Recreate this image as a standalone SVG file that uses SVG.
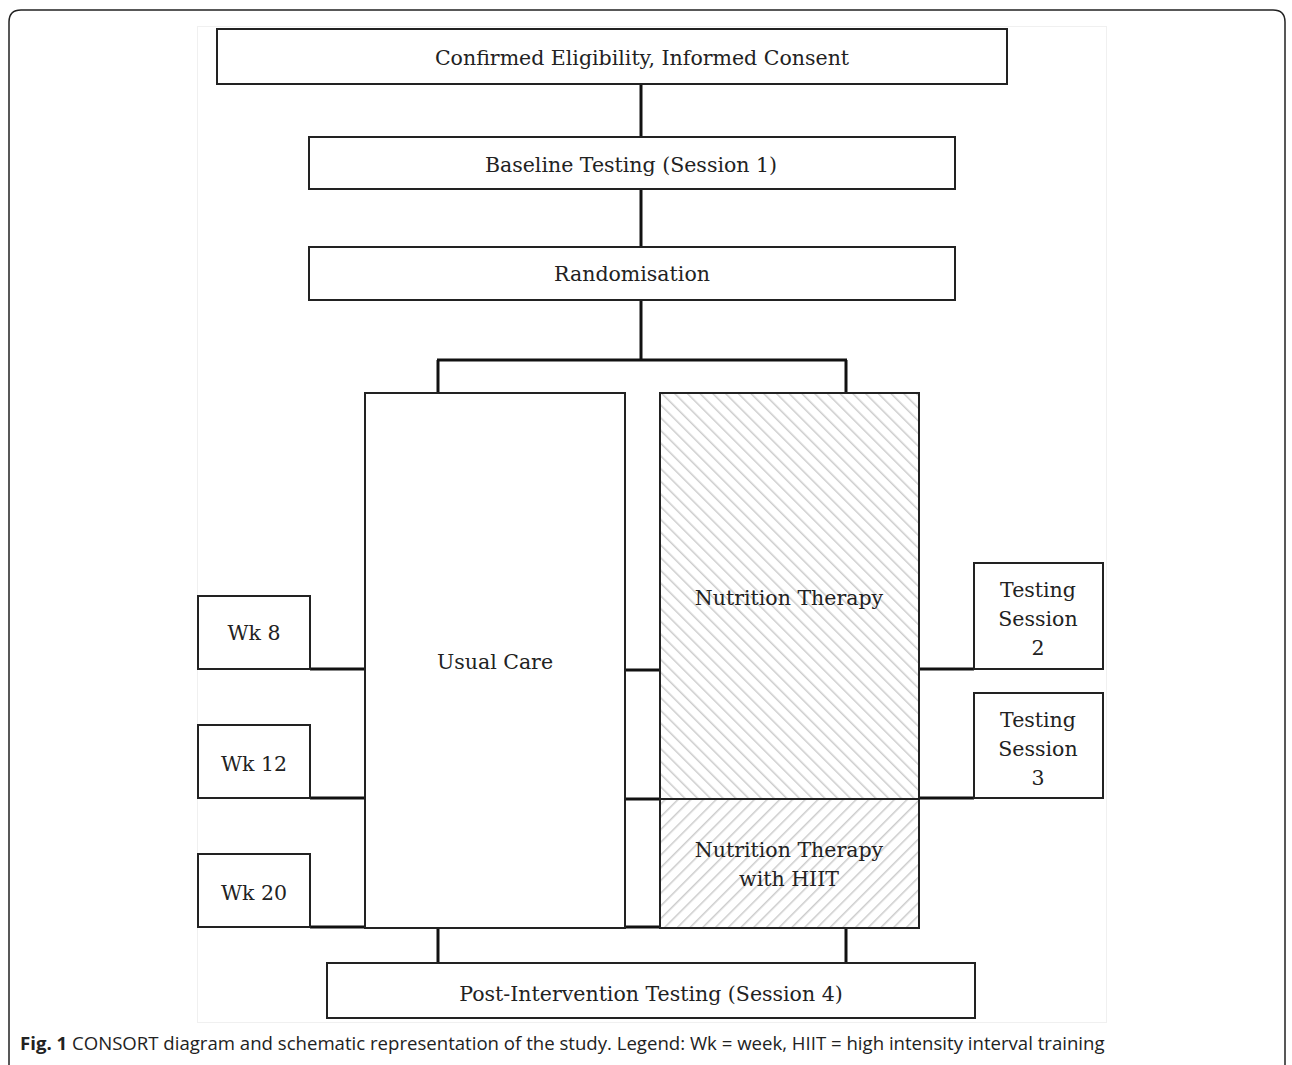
<svg xmlns="http://www.w3.org/2000/svg" width="1292" height="1065" viewBox="0 0 1292 1065">
<defs>
<pattern id="hatchA" patternUnits="userSpaceOnUse" width="9" height="9" patternTransform="rotate(45)">
<rect width="9" height="9" fill="#fff"/>
<line x1="0" y1="0" x2="0" y2="9" stroke="#cccccc" stroke-width="3"/>
</pattern>
<pattern id="hatchB" patternUnits="userSpaceOnUse" width="9" height="9" patternTransform="rotate(-45)">
<rect width="9" height="9" fill="#fff"/>
<line x1="0" y1="0" x2="0" y2="9" stroke="#cccccc" stroke-width="3"/>
</pattern>
</defs>
<style>
.box{fill:#fff;stroke:#222;stroke-width:2}
.t{font-family:"DejaVu Serif","Liberation Serif",serif;font-size:20.5px;fill:#222;text-anchor:middle}
.c{stroke:#111;stroke-width:3;fill:none}
.cap{font-family:"Open Sans","Liberation Sans",sans-serif;font-size:18.6px;fill:#222}
</style>
<rect x="0" y="0" width="1292" height="1065" fill="#fff"/>
<path d="M9,1065 V22 Q9,10 21,10 H1273 Q1285,10 1285,22 V1065" fill="none" stroke="#222" stroke-width="1.5"/>
<rect x="197.5" y="26.5" width="909" height="996" fill="#fff" stroke="#f0f0f0" stroke-width="1"/>

<g id="connectors">
<line class="c" x1="641" y1="84" x2="641" y2="137"/>
<line class="c" x1="641" y1="189" x2="641" y2="247"/>
<line class="c" x1="641" y1="300" x2="641" y2="360"/>
<line class="c" x1="437" y1="360" x2="847" y2="360"/>
<line class="c" x1="438" y1="360" x2="438" y2="393"/>
<line class="c" x1="846" y1="360" x2="846" y2="393"/>
<line class="c" x1="310" y1="669" x2="365" y2="669"/>
<line class="c" x1="310" y1="798" x2="365" y2="798"/>
<line class="c" x1="310" y1="927" x2="919" y2="927"/>
<line class="c" x1="625" y1="670" x2="660" y2="670"/>
<line class="c" x1="625" y1="799" x2="660" y2="799"/>
<line class="c" x1="919" y1="669" x2="974" y2="669"/>
<line class="c" x1="919" y1="798" x2="974" y2="798"/>
<line class="c" x1="438" y1="927" x2="438" y2="963"/>
<line class="c" x1="846" y1="927" x2="846" y2="963"/>
</g>

<g id="n-consent"><rect class="box" x="217" y="29" width="790" height="55"/><text class="t" x="642" y="65">Confirmed Eligibility, Informed Consent</text></g>
<g id="n-baseline"><rect class="box" x="309" y="137" width="646" height="52"/><text class="t" x="631" y="172">Baseline Testing (Session 1)</text></g>
<g id="n-random"><rect class="box" x="309" y="247" width="646" height="53"/><text class="t" x="632" y="281">Randomisation</text></g>
<g id="n-usual"><rect class="box" x="365" y="393" width="260" height="535"/><text class="t" x="495" y="669">Usual Care</text></g>
<g id="n-nt"><rect x="660" y="393" width="259" height="406" fill="url(#hatchB)" stroke="#222" stroke-width="2"/><text class="t" x="789" y="605">Nutrition Therapy</text></g>
<g id="n-nthiit"><rect x="660" y="799" width="259" height="129" fill="url(#hatchA)" stroke="#222" stroke-width="2"/><text class="t" x="789" y="857">Nutrition Therapy</text><text class="t" x="789" y="886">with HIIT</text></g>
<g id="n-wk8"><rect class="box" x="198" y="596" width="112" height="73"/><text class="t" x="254" y="640">Wk 8</text></g>
<g id="n-wk12"><rect class="box" x="198" y="725" width="112" height="73"/><text class="t" x="254" y="771">Wk 12</text></g>
<g id="n-wk20"><rect class="box" x="198" y="854" width="112" height="73"/><text class="t" x="254" y="900">Wk 20</text></g>
<g id="n-ts2"><rect class="box" x="974" y="563" width="129" height="106"/><text class="t" x="1038" y="597">Testing</text><text class="t" x="1038" y="626">Session</text><text class="t" x="1038" y="655">2</text></g>
<g id="n-ts3"><rect class="box" x="974" y="693" width="129" height="105"/><text class="t" x="1038" y="727">Testing</text><text class="t" x="1038" y="756">Session</text><text class="t" x="1038" y="785">3</text></g>
<g id="n-post"><rect class="box" x="327" y="963" width="648" height="55"/><text class="t" x="651" y="1001">Post-Intervention Testing (Session 4)</text></g>

<text class="cap" x="20" y="1050"><tspan font-weight="bold">Fig. 1</tspan> CONSORT diagram and schematic representation of the study. Legend: Wk = week, HIIT = high intensity interval training</text>
</svg>
